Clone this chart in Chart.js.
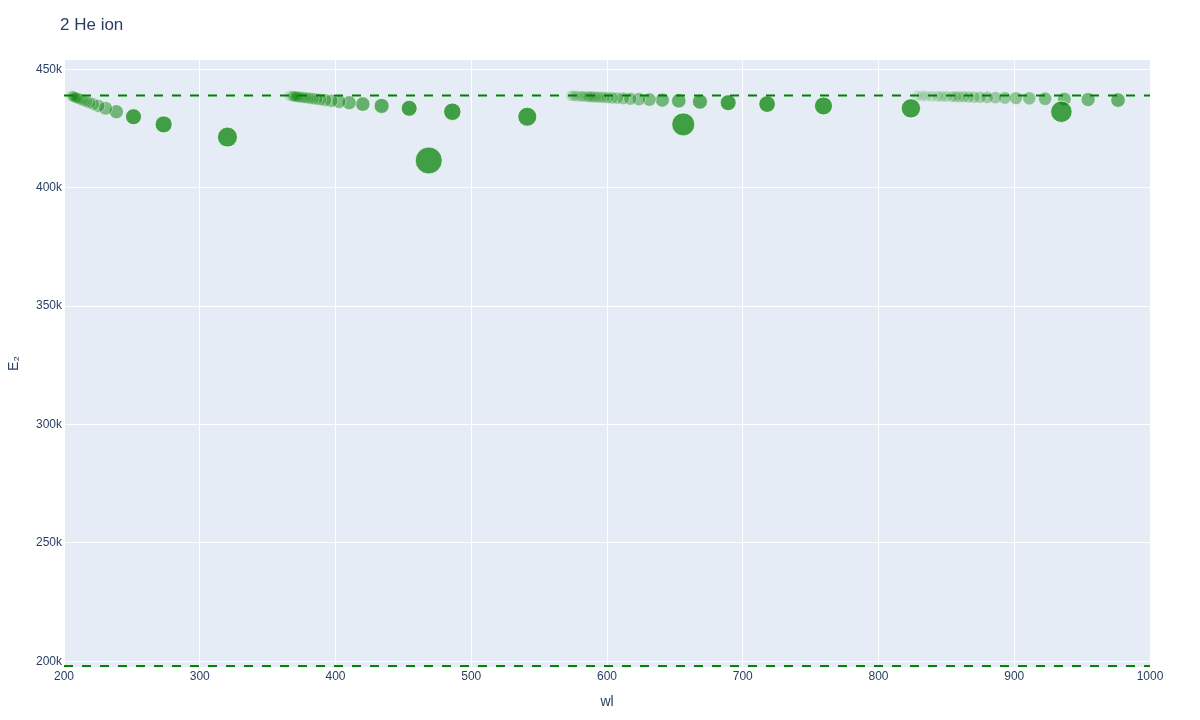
<!DOCTYPE html>
<html>
<head>
<meta charset="utf-8">
<title>2 He ion</title>
<script src="https://cdn.jsdelivr.net/npm/chart.js@4.4.1/dist/chart.umd.min.js"></script>
<style>
  html, body { margin: 0; padding: 0; background: #fff; }
  #wrap { width: 1200px; height: 720px; }
</style>
</head>
<body>
<div id="wrap"><canvas id="ionChart" width="1200" height="720"></canvas></div>
<script>
// He II lines, grouped by lower level (n = 3, 4, 5, 6)
// wavelength in nm, upper level energy E2 in cm^-1, relative line strength
const wlFrom3 = [468.70, 320.40, 273.40, 251.19, 238.61, 230.69, 225.33, 221.53, 218.72, 216.59,
  214.92, 213.60, 212.52, 211.65, 210.91, 210.30, 209.77, 209.33, 208.94, 208.31, 207.62, 207.13,
  206.49, 205.57];
const e2From3 = [411477, 421353, 426717, 429952, 432051, 433490, 434520, 435282, 435861, 436312,
  436670, 436958, 437194, 437390, 437554, 437693, 437812, 437914, 438002, 438147, 438307, 438421,
  438570, 438787];
const relFrom3 = [1.0, 0.56, 0.375, 0.31, 0.19, 0.16, 0.125, 0.10, 0.08, 0.07,
  0.06, 0.05, 0.045, 0.04, 0.035, 0.03, 0.03, 0.025, 0.025, 0.02, 0.015, 0.015,
  0.01, 0.005];

const wlFrom4 = [656.17, 541.29, 486.05, 454.28, 433.98, 420.09, 410.11, 402.66, 396.94, 392.45,
  388.84, 385.90, 383.48, 381.45, 379.73, 378.26, 377.00, 375.91, 374.95, 374.12, 373.38, 372.72,
  372.13, 371.61, 371.14, 370.33, 369.66, 369.10, 368.22, 366.17];
const e2From4 = [426717, 429952, 432051, 433490, 434520, 435282, 435861, 436312, 436670, 436958,
  437194, 437390, 437554, 437693, 437812, 437914, 438002, 438079, 438147, 438207, 438260, 438307,
  438349, 438387, 438421, 438480, 438529, 438570, 438635, 438787];
const relFrom4 = [0.75, 0.50, 0.40, 0.31, 0.25, 0.22, 0.19, 0.16, 0.14, 0.12,
  0.10, 0.09, 0.08, 0.07, 0.06, 0.055, 0.05, 0.045, 0.04, 0.035, 0.03, 0.03,
  0.025, 0.025, 0.02, 0.02, 0.015, 0.015, 0.01, 0.005];

const wlFrom5 = [934.72, 823.87, 759.46, 717.93, 689.26, 668.48, 652.87, 640.79, 631.24, 623.53,
  617.22, 611.98, 607.57, 603.83, 600.62, 597.85, 595.44, 593.33, 591.47, 589.82, 588.35, 587.04,
  585.87, 583.85, 582.19, 580.80, 578.63, 576.71, 575.35, 573.58];
const e2From5 = [432051, 433490, 434520, 435282, 435861, 436312, 436670, 436958, 437194, 437390,
  437554, 437693, 437812, 437914, 438002, 438079, 438147, 438207, 438260, 438307, 438349, 438387,
  438421, 438480, 438529, 438570, 438635, 438692, 438733, 438787];
const relFrom5 = [0.65, 0.52, 0.44, 0.35, 0.31, 0.25, 0.22, 0.19, 0.16, 0.14,
  0.12, 0.10, 0.09, 0.08, 0.07, 0.06, 0.055, 0.05, 0.045, 0.04, 0.035, 0.03,
  0.03, 0.025, 0.02, 0.02, 0.015, 0.01, 0.01, 0.005];

const wlFrom6 = [976.45, 954.43, 936.93, 922.75, 911.07, 901.32, 893.13, 886.12, 880.11, 874.90,
  870.35, 866.36, 862.83, 859.69, 856.90, 854.39, 850.10, 846.58, 843.66, 839.10, 835.06, 832.20,
  828.50];
const e2From6 = [436958, 437194, 437390, 437554, 437693, 437812, 437914, 438002, 438079, 438147,
  438207, 438260, 438307, 438349, 438387, 438421, 438480, 438529, 438570, 438635, 438692, 438733,
  438787];
const relFrom6 = [0.22, 0.19, 0.17, 0.15, 0.13, 0.12, 0.10, 0.09, 0.08, 0.07,
  0.06, 0.055, 0.05, 0.045, 0.04, 0.035, 0.03, 0.025, 0.02, 0.015, 0.01, 0.01,
  0.005];

// ionisation limit and the lower dashed line
const limitLines = [438909, 198000];

const xTicks = [200, 300, 400, 500, 600, 700, 800, 900, 1000];
const yTicks = [200000, 250000, 300000, 350000, 400000, 450000];
const xRange = [200, 1000];
const yRange = [197600, 453900];

const titleText = "2 He ion";
const xTitle = "wl";
const yTitle = "E\u2082";

const fontFamily = '"Liberation Sans", Arial, Helvetica, sans-serif';
const textColor = "#2a3f5f";

// weak lines get fainter markers; the white rim keeps piled-up tails pale
function alphaFor(v) {
  return Math.min(0.72, 0.12 + 1.6 * Math.pow(v, 0.85));
}

function buildDataset(wl, e2, rel) {
  return {
    data: wl.map((x, i) => ({ x: x, y: e2[i], r: 5.5 + 8 * rel[i] })),
    backgroundColor: rel.map(v => `rgba(0,128,0,${alphaFor(v).toFixed(3)})`),
    borderColor: rel.map(v => `rgba(255,255,255,${alphaFor(v).toFixed(3)})`),
    borderWidth: 1
  };
}

// plot background, like plotly's
const plotBg = {
  id: "plotBg",
  beforeDraw(chart) {
    const { ctx, chartArea: a } = chart;
    ctx.save();
    ctx.fillStyle = "#E5ECF6";
    ctx.fillRect(a.left, a.top, a.right - a.left, a.bottom - a.top);
    ctx.restore();
  }
};

// dashed horizontal lines drawn above the markers
const dashedLines = {
  id: "dashedLines",
  afterDatasetsDraw(chart) {
    const { ctx, chartArea: a, scales } = chart;
    ctx.save();
    ctx.beginPath();
    ctx.rect(a.left, a.top, a.right - a.left, a.bottom - a.top + 2);
    ctx.clip();
    ctx.strokeStyle = "green";
    ctx.lineWidth = 2;
    ctx.setLineDash([9, 9]);
    limitLines.forEach(v => {
      const y = scales.y.getPixelForValue(v);
      ctx.beginPath();
      ctx.moveTo(a.left, y);
      ctx.lineTo(a.right, y);
      ctx.stroke();
    });
    ctx.restore();
  }
};

const plotTitle = {
  id: "plotTitle",
  afterDraw(chart) {
    const ctx = chart.ctx;
    ctx.save();
    ctx.font = `17px ${fontFamily}`;
    ctx.fillStyle = textColor;
    ctx.textAlign = "left";
    ctx.textBaseline = "alphabetic";
    ctx.fillText(titleText, 60, 30);
    ctx.restore();
  }
};

const canvas = document.getElementById("ionChart");

new Chart(canvas.getContext("2d"), {
  type: "bubble",
  data: {
    datasets: [
      buildDataset(wlFrom3, e2From3, relFrom3),
      buildDataset(wlFrom4, e2From4, relFrom4),
      buildDataset(wlFrom5, e2From5, relFrom5),
      buildDataset(wlFrom6, e2From6, relFrom6)
    ]
  },
  options: {
    responsive: false,
    animation: false,
    events: [],
    layout: { padding: { top: 60, right: 50, bottom: 0, left: 0 } },
    plugins: {
      legend: { display: false },
      tooltip: { enabled: false },
      title: { display: false }
    },
    scales: {
      x: {
        type: "linear",
        min: xRange[0],
        max: xRange[1],
        afterBuildTicks: s => { s.ticks = xTicks.map(v => ({ value: v })); },
        afterFit: s => { s.height = 53; },
        grid: { color: "#ffffff", lineWidth: 1, drawTicks: false },
        border: { display: false },
        ticks: {
          padding: 2,
          maxRotation: 0,
          autoSkip: false,
          color: textColor,
          font: { family: fontFamily, size: 12 },
          callback: v => String(v)
        },
        title: {
          display: true,
          text: xTitle,
          color: textColor,
          font: { family: fontFamily, size: 14 },
          padding: { top: 0, bottom: 9.6 }
        }
      },
      y: {
        type: "linear",
        min: yRange[0],
        max: yRange[1],
        afterBuildTicks: s => { s.ticks = yTicks.map(v => ({ value: v })); },
        afterFit: s => { s.width = 64; },
        grid: { color: "#ffffff", lineWidth: 1, drawTicks: false },
        border: { display: false },
        ticks: {
          padding: 2,
          autoSkip: false,
          color: textColor,
          font: { family: fontFamily, size: 12 },
          callback: v => (v / 1000) + "k"
        },
        title: {
          display: true,
          text: yTitle,
          color: textColor,
          font: { family: fontFamily, size: 14 },
          padding: { top: 6, bottom: 0 }
        }
      }
    }
  },
  plugins: [plotBg, dashedLines, plotTitle]
});
</script>
</body>
</html>
